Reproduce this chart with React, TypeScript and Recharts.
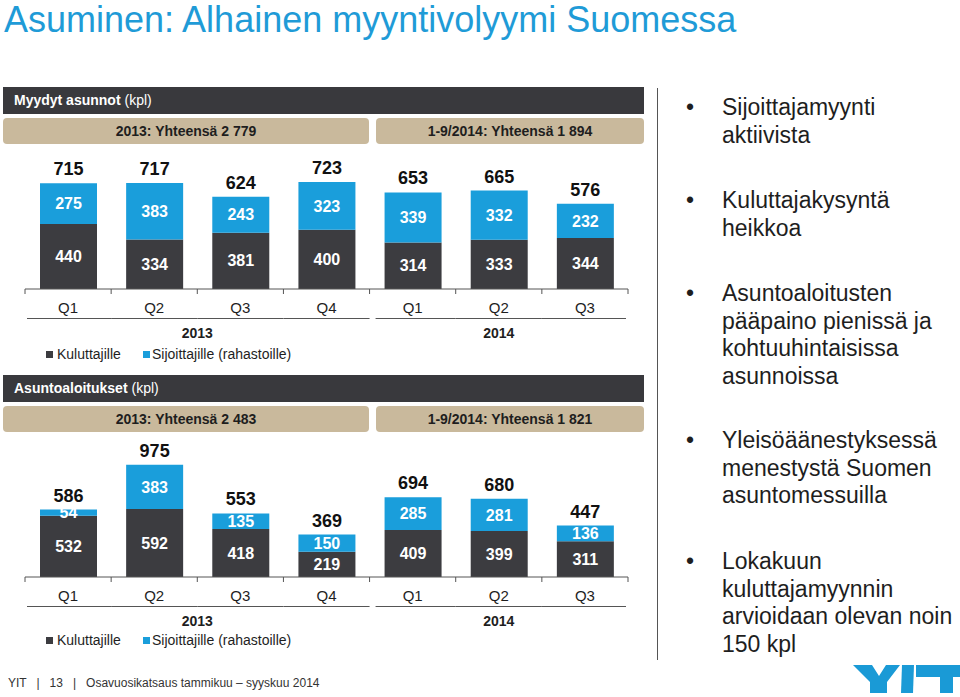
import React from "react";
import { BarChart, Bar, XAxis, YAxis, LabelList } from "recharts";

const quarters = ["Q1", "Q2", "Q3", "Q4", "Q1", "Q2", "Q3"];
const periods = ["2013-Q1", "2013-Q2", "2013-Q3", "2013-Q4", "2014-Q1", "2014-Q2", "2014-Q3"];
const years = ["2013", "2014"];
const seriesNames = ["Kuluttajille", "Sijoittajille (rahastoille)"];

// Myydyt asunnot (kpl)
const soldConsumers = [440, 334, 381, 400, 314, 333, 344];
const soldInvestors = [275, 383, 243, 323, 339, 332, 232];
const soldTotals = ["2013: Yhteensä 2 779", "1-9/2014: Yhteensä 1 894"];

// Asuntoaloitukset (kpl)
const startsConsumers = [532, 592, 418, 219, 409, 399, 311];
const startsInvestors = [54, 383, 135, 150, 285, 281, 136];
const startsTotals = ["2013: Yhteensä 2 483", "1-9/2014: Yhteensä 1 821"];

const bullets = [
  ["Sijoittajamyynti", "aktiivista"],
  ["Kuluttajakysyntä", "heikkoa"],
  ["Asuntoaloitusten", "pääpaino pienissä ja", "kohtuuhintaisissa", "asunnoissa"],
  ["Yleisöäänestyksessä", "menestystä Suomen", "asuntomessuilla"],
  ["Lokakuun", "kuluttajamyynnin", "arvioidaan olevan noin", "150 kpl"],
];
const bulletCenters = [108, 201, 294, 441, 562];

const FONT = '"Liberation Sans", Arial, Helvetica, sans-serif';
const DARK = "#3c3c40";
const BLUE = "#1a9edb";
const TAN = "#c9b99c";
const HEADER = "#39393d";

const CHART_W = 650;
const PLOT_L = 25;
const PLOT_R = 22;
const BAND = (CHART_W - PLOT_L - PLOT_R) / quarters.length;

function buildRows(consumers: number[], investors: number[]) {
  return periods.map((p, i) => ({
    id: p,
    kul: consumers[i],
    sij: investors[i],
    total: consumers[i] + investors[i],
  }));
}

function makeTick(base: number) {
  return (props: any) => {
    const { x, index } = props;
    const left = x - BAND / 2;
    const right = x + BAND / 2;
    let g1 = left;
    let g2 = right;
    if (index === 0) g1 += 2;
    if (index === 4) g1 += 6;
    if (index === 6) g2 -= 2;
    return (
      <g>
        <line x1={left} x2={left} y1={base} y2={base + 5} stroke="#555" />
        {index === quarters.length - 1 && (
          <line x1={right} x2={right} y1={base} y2={base + 5} stroke="#555" />
        )}
        <text x={x} y={base + 24} textAnchor="middle" fontSize={15} fill="#1e1e1e" fontFamily={FONT}>
          {quarters[index]}
        </text>
        <line x1={g1} x2={g2} y1={base + 29.5} y2={base + 29.5} stroke="#555" />
        {index === 1 && (
          <text x={right} y={base + 49} textAnchor="middle" fontSize={14} fontWeight="bold" fill="#1e1e1e" fontFamily={FONT}>
            {years[0]}
          </text>
        )}
        {index === 5 && (
          <text x={x} y={base + 49} textAnchor="middle" fontSize={14} fontWeight="bold" fill="#1e1e1e" fontFamily={FONT}>
            {years[1]}
          </text>
        )}
      </g>
    );
  };
}

function StackChart({ consumers, investors, top, plotTop, plotHeight, domainMax }: any) {
  const rows = buildRows(consumers, investors);
  const base = plotTop + plotHeight;
  return (
    <div style={{ position: "absolute", left: 0, top }}>
      <BarChart
        width={CHART_W}
        height={plotTop + plotHeight + 60}
        data={rows}
        margin={{ top: plotTop, right: PLOT_R, left: PLOT_L, bottom: 0 }}
        barSize={57}
      >
        <XAxis
          dataKey="id"
          height={60}
          interval={0}
          tickLine={false}
          tickSize={0}
          tickMargin={0}
          axisLine={{ stroke: "#555" }}
          tick={makeTick(base)}
        />
        <YAxis hide domain={[0, domainMax]} />
        <Bar dataKey="kul" stackId="a" fill={DARK} isAnimationActive={false} name={seriesNames[0]}>
          <LabelList dataKey="kul" position="center" fill="#fff" fontSize={16} fontWeight="bold" fontFamily={FONT} />
        </Bar>
        <Bar dataKey="sij" stackId="a" fill={BLUE} isAnimationActive={false} name={seriesNames[1]}>
          <LabelList dataKey="sij" position="center" fill="#fff" fontSize={16} fontWeight="bold" fontFamily={FONT} />
          <LabelList dataKey="total" position="top" offset={8} fill="#111" fontSize={18} fontWeight="bold" fontFamily={FONT} />
        </Bar>
      </BarChart>
    </div>
  );
}

function Header({ top, bold, rest, totals }: any) {
  return (
    <>
      <div
        style={{
          position: "absolute",
          left: 3,
          top,
          width: 641,
          height: 27,
          background: HEADER,
          color: "#fff",
          fontSize: 14,
          lineHeight: "27px",
          paddingLeft: 11,
          boxSizing: "border-box",
        }}
      >
        <b>{bold}</b> {rest}
      </div>
      {[
        { left: 3, width: 366 },
        { left: 376, width: 268 },
      ].map((b, i) => (
        <div
          key={i}
          style={{
            position: "absolute",
            left: b.left,
            top: top + 31,
            width: b.width,
            height: 26,
            background: TAN,
            borderRadius: 4,
            fontSize: 14,
            fontWeight: "bold",
            lineHeight: "26px",
            textAlign: "center",
            color: "#1e1e1e",
          }}
        >
          {totals[i]}
        </div>
      ))}
    </>
  );
}

function Legend({ top }: any) {
  const sq = (c: string, left: number) => (
    <div style={{ position: "absolute", left, top: top - 3.5, width: 7, height: 7, background: c }} />
  );
  return (
    <>
      {sq(DARK, 46)}
      <div style={{ position: "absolute", left: 57, top: top - 9, fontSize: 14, lineHeight: "18px", color: "#1e1e1e" }}>
        {seriesNames[0]}
      </div>
      {sq(BLUE, 143)}
      <div style={{ position: "absolute", left: 152, top: top - 9, fontSize: 14, lineHeight: "18px", color: "#1e1e1e" }}>
        {seriesNames[1]}
      </div>
    </>
  );
}

export default function App() {
  return (
    <div
      style={{
        position: "absolute",
        left: 0,
        top: 0,
        width: 960,
        height: 697,
        background: "#fff",
        overflow: "hidden",
        fontFamily: FONT,
      }}
    >
      <div style={{ position: "absolute", left: 4, top: 0, fontSize: 36, lineHeight: "40px", color: "#1f9bd7", whiteSpace: "nowrap" }}>
        Asuminen: Alhainen myyntivolyymi Suomessa
      </div>

      <Header top={87} bold="Myydyt asunnot" rest="(kpl)" totals={soldTotals} />
      <StackChart
        consumers={soldConsumers}
        investors={soldInvestors}
        top={140}
        plotTop={29}
        plotHeight={120}
        domainMax={811}
      />
      <Legend top={354} />

      <Header top={375} bold="Asuntoaloitukset" rest="(kpl)" totals={startsTotals} />
      <StackChart
        consumers={startsConsumers}
        investors={startsInvestors}
        top={430}
        plotTop={17}
        plotHeight={130}
        domainMax={1130}
      />
      <Legend top={640} />

      <div style={{ position: "absolute", left: 657, top: 88, width: 1, height: 572, background: "#555" }} />

      {bullets.map((lines, i) => (
        <div
          key={i}
          style={{
            position: "absolute",
            left: 686,
            top: bulletCenters[i] - 13.75,
            fontSize: 23,
            lineHeight: "27.5px",
            color: "#1e1e1e",
          }}
        >
          <span style={{ position: "absolute", left: 0, top: 0 }}>•</span>
          <div style={{ marginLeft: 36, whiteSpace: "nowrap" }}>
            {lines.map((l, j) => (
              <div key={j}>{l}</div>
            ))}
          </div>
        </div>
      ))}

      <div style={{ position: "absolute", left: 8, top: 675, fontSize: 12, lineHeight: "16px", color: "#333", whiteSpace: "pre" }}>
        {"YIT   |   13   |   Osavuosikatsaus tammikuu – syyskuu 2014"}
      </div>

      <svg style={{ position: "absolute", left: 820, top: 640 }} width={140} height={57}>
        <polygon points="33,25 52,25 59,36 66,25 80,25 67,42 67,53 50,53 50,42" fill="#1a9ad6" />
        <polygon points="82,25 94,25 93,53 81,53" fill="#1a9ad6" />
        <polygon points="96,25 140,25 140,37 133,37 133,53 120,53 120,37 96,37" fill="#1a9ad6" />
      </svg>
    </div>
  );
}
